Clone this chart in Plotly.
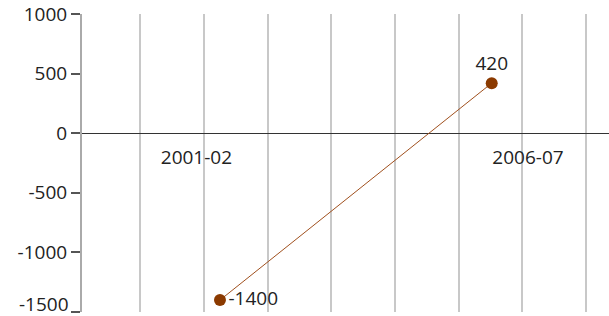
import plotly.graph_objects as go

# Data
categories = ["2001-02", "2006-07"]
values = [-1400, 420]
point_x = [2.25, 6.52]          # horizontal position of each period on the axis
tick_labels = ["2001-02", "2006-07"]
tick_vals = [1.88, 7.09]
y_ticks = [-1500, -1000, -500, 0, 500, 1000]

FONT = "Open Sans"
TXT = "#222222"
FS = 19

fig = go.Figure()
fig.add_trace(go.Scatter(
    x=point_x, y=values,
    mode="lines+markers+text",
    line=dict(color="#a0501e", width=1),
    marker=dict(color="#8b3a00", size=12),
    text=[str(v) for v in values],
    textposition=["middle right", "top center"],
    textfont=dict(family=FONT, size=FS, color=TXT),
    cliponaxis=False,
    hoverinfo="skip",
    showlegend=False,
))

y_min, y_max = -1500, 1000
# the bottom-most tick label is drawn as an annotation so it is not cut by the page edge
main_text = ["" if v == y_min else str(v) for v in y_ticks]

fig.update_layout(
    width=609, height=316,
    margin=dict(l=82, r=0, t=14, b=4, autoexpand=False),
    paper_bgcolor="white", plot_bgcolor="white",
    font=dict(family=FONT, size=FS, color=TXT),
    xaxis=dict(
        range=[0.082, 8.363],
        anchor="free",
        position=(0 - y_min) / (y_max - y_min),
        automargin=False,
        tickmode="array", tickvals=tick_vals, ticktext=tick_labels,
        ticks="outside", ticklen=7, tickcolor="rgba(0,0,0,0)",
        showgrid=False, zeroline=False, showline=False,
        tickfont=dict(family=FONT, size=FS, color=TXT),
        minor=dict(showgrid=True, tick0=1, dtick=1,
                   gridcolor="#c8c8c8", gridwidth=1.5, ticks=""),
    ),
    yaxis=dict(
        range=[y_min, y_max],
        automargin=False,
        tickmode="array", tickvals=y_ticks, ticktext=main_text,
        ticks="outside", ticklen=9, tickwidth=1.5, tickcolor="#555555",
        showline=True, linecolor="#aaaaaa", linewidth=2,
        showgrid=False,
        zeroline=True, zerolinecolor="#333333", zerolinewidth=1,
        tickfont=dict(family=FONT, size=FS, color=TXT),
    ),
    annotations=[dict(
        text=str(y_min), x=0, xref="paper", y=y_min, yref="y",
        xanchor="right", yanchor="middle", xshift=-11, yshift=8,
        showarrow=False, font=dict(family=FONT, size=FS, color=TXT),
    )],
)

fig.write_html(
    "out.html",
    config={"displayModeBar": False},
    post_script="document.body.style.margin='0';document.body.style.overflow='hidden';",
)
